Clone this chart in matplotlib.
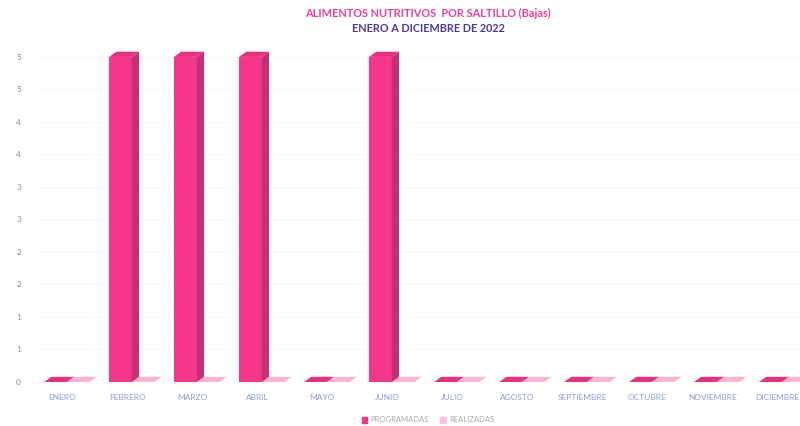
import numpy as np
import matplotlib.pyplot as plt
from matplotlib.patches import Polygon, Patch

plt.rcParams['font.family'] = ['Lato', 'DejaVu Sans']

meses = ['ENERO', 'FEBRERO', 'MARZO', 'ABRIL', 'MAYO', 'JUNIO', 'JULIO',
         'AGOSTO', 'SEPTIEMBRE', 'OCTUBRE', 'NOVIEMBRE', 'DICIEMBRE']
programadas = [0, 5, 5, 5, 0, 5, 0, 0, 0, 0, 0, 0]
realizadas = [0, 0, 0, 0, 0, 0, 0, 0, 0, 0, 0, 0]
ytick_vals = [0, 0.5, 1, 1.5, 2, 2.5, 3, 3.5, 4, 4.5, 5]
ytick_labels = ['0', '1', '1', '2', '2', '3', '3', '4', '4', '5', '5']

titulo1 = 'ALIMENTOS NUTRITIVOS  POR SALTILLO (Bajas)'
titulo2 = 'ENERO A DICIEMBRE DE 2022'


def bar3d(ax, x, h, w, front, side, top, z, dx=0.11, dy=0.08):
    bars = ax.bar(x, h, w, color=front, zorder=z, linewidth=0)
    for b in bars:
        x0 = b.get_x()
        x1 = x0 + b.get_width()
        y1 = b.get_height()
        if y1 > 0:
            ax.add_patch(Polygon([(x1, 0), (x1 + dx, dy), (x1 + dx, y1 + dy), (x1, y1)],
                                 closed=True, color=side, zorder=z, linewidth=0))
        ax.add_patch(Polygon([(x0, y1), (x1, y1), (x1 + dx, y1 + dy), (x0 + dx, y1 + dy)],
                             closed=True, color=top, zorder=z, linewidth=0))


fig = plt.figure(figsize=(8, 4.26), dpi=100)
ax = fig.add_axes([35/800, 44/426, 765/800, 342/426])

x = np.arange(len(meses))
w = 0.35
bar3d(ax, x + 0.245, realizadas, w, '#f8c3dd', '#eaa4c8', '#f5b6d4', 2)
bar3d(ax, x - 0.105, programadas, w, '#f5368a', '#c52f74', '#e2337f', 3)

ax.set_xlim(-0.42, 11.35)
ax.set_ylim(0, 5.26)
ax.set_xticks(x)
ax.set_xticklabels(meses, fontsize=6, color='#8f9fcf')
ax.set_yticks(ytick_vals)
ax.set_yticklabels(ytick_labels, fontsize=6, color='#8a8a8a')
ax.tick_params(length=0)
ax.tick_params(axis='x', pad=9)
ax.tick_params(axis='y', pad=10)
ax.grid(axis='y', color='#f7f7f7', linewidth=0.6, zorder=0)
for s in ax.spines.values():
    s.set_visible(False)

fig.text(428/800, 1 - 13/426, titulo1, ha='center', va='center',
         fontsize=7.9, fontweight='bold', color='#e8409b')
fig.text(428/800, 1 - 28/426, titulo2, ha='center', va='center',
         fontsize=7.8, fontweight='bold', color='#4a3a98')

handles = [Patch(color='#f5368a', label='PROGRAMADAS'),
           Patch(color='#f8c3dd', label='REALIZADAS')]
fig.legend(handles=handles, loc='center', bbox_to_anchor=(428/800, 1 - 420/426),
           ncol=2, frameon=False, fontsize=5.5, labelcolor='#aaaaaa',
           handlelength=0.7, handleheight=0.7, handletextpad=0.4, columnspacing=1.5)

fig.savefig('out.png', dpi=100)
